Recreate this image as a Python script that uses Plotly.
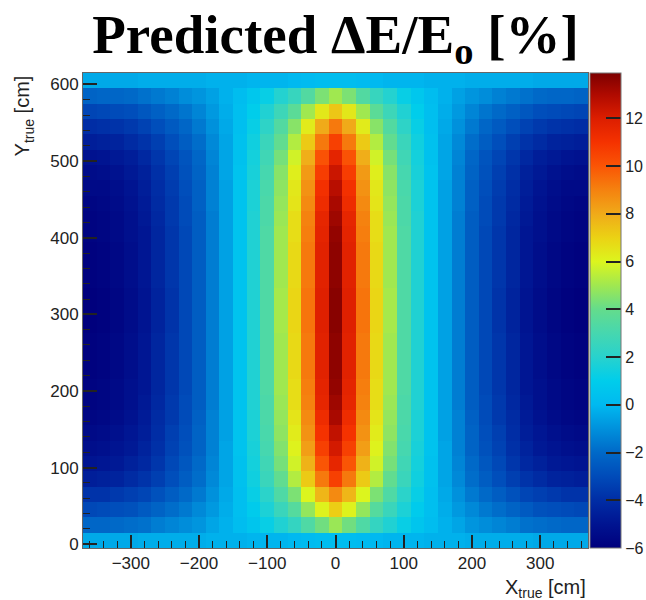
import plotly.graph_objects as go

# bin centres (cm)
x_centers = [-360, -340, -320, -300, -280, -260, -240, -220, -200, -180, -160, -140, -120, -100, -80, -60, -40, -20,
             0, 20, 40, 60, 80, 100, 120, 140, 160, 180, 200, 220, 240, 260, 280, 300, 320, 340, 360]
y_centers = [5, 25, 45, 65, 85, 105, 125, 145, 165, 185, 205, 225, 245, 265, 285, 305, 325, 345, 365, 385,
             405, 425, 445, 465, 485, 505, 525, 545, 565, 585, 605]

# predicted dE/E0 [%], one row per y bin (bottom to top)
dE = [
    [-0.4,-0.4,-0.4,-0.4,-0.3,-0.3,-0.3,-0.3,-0.3,-0.2,-0.2,-0.2,-0.1,-0.1,-0.1,0.0,0.1,0.2,0.2,0.2,0.1,0.0,-0.1,-0.1,-0.1,-0.2,-0.2,-0.2,-0.3,-0.3,-0.3,-0.3,-0.3,-0.4,-0.4,-0.4,-0.4],
    [-2.1,-2.1,-2.0,-1.9,-1.8,-1.5,-1.3,-1.1,-0.9,-0.5,-0.2,0.2,0.6,1.2,1.8,2.4,3.3,4.2,4.9,4.2,3.3,2.4,1.8,1.2,0.6,0.2,-0.2,-0.5,-0.9,-1.1,-1.3,-1.5,-1.8,-1.9,-2.0,-2.1,-2.1],
    [-3.1,-3.0,-2.9,-2.8,-2.5,-2.2,-1.9,-1.6,-1.2,-0.8,-0.3,0.3,0.9,1.7,2.6,3.5,4.8,6.1,7.1,6.1,4.8,3.5,2.6,1.7,0.9,0.3,-0.3,-0.8,-1.2,-1.6,-1.9,-2.2,-2.5,-2.8,-2.9,-3.0,-3.1],
    [-3.8,-3.8,-3.6,-3.4,-3.2,-2.8,-2.4,-2.0,-1.6,-1.0,-0.4,0.3,1.2,2.1,3.3,4.4,6.0,7.7,8.8,7.7,6.0,4.4,3.3,2.1,1.2,0.3,-0.4,-1.0,-1.6,-2.0,-2.4,-2.8,-3.2,-3.4,-3.6,-3.8,-3.8],
    [-4.6,-4.5,-4.4,-4.1,-3.8,-3.4,-2.9,-2.4,-1.9,-1.2,-0.5,0.4,1.4,2.6,3.9,5.3,7.2,9.2,10.6,9.2,7.2,5.3,3.9,2.6,1.4,0.4,-0.5,-1.2,-1.9,-2.4,-2.9,-3.4,-3.8,-4.1,-4.4,-4.5,-4.6],
    [-5.0,-4.9,-4.8,-4.5,-4.2,-3.7,-3.1,-2.6,-2.0,-1.3,-0.5,0.4,1.5,2.8,4.3,5.8,7.8,10.0,11.6,10.0,7.8,5.8,4.3,2.8,1.5,0.4,-0.5,-1.3,-2.0,-2.6,-3.1,-3.7,-4.2,-4.5,-4.8,-4.9,-5.0],
    [-5.3,-5.2,-5.0,-4.8,-4.4,-3.9,-3.3,-2.8,-2.2,-1.4,-0.5,0.5,1.6,3.0,4.5,6.1,8.3,10.6,12.2,10.6,8.3,6.1,4.5,3.0,1.6,0.5,-0.5,-1.4,-2.2,-2.8,-3.3,-3.9,-4.4,-4.8,-5.0,-5.2,-5.3],
    [-5.5,-5.4,-5.2,-4.9,-4.6,-4.0,-3.4,-2.9,-2.2,-1.4,-0.6,0.5,1.7,3.1,4.7,6.3,8.6,11.0,12.6,11.0,8.6,6.3,4.7,3.1,1.7,0.5,-0.6,-1.4,-2.2,-2.9,-3.4,-4.0,-4.6,-4.9,-5.2,-5.4,-5.5],
    [-5.7,-5.6,-5.4,-5.1,-4.7,-4.1,-3.6,-3.0,-2.3,-1.4,-0.6,0.5,1.7,3.2,4.8,6.5,8.8,11.3,13.1,11.3,8.8,6.5,4.8,3.2,1.7,0.5,-0.6,-1.4,-2.3,-3.0,-3.6,-4.1,-4.7,-5.1,-5.4,-5.6,-5.7],
    [-5.8,-5.7,-5.5,-5.2,-4.8,-4.2,-3.6,-3.0,-2.4,-1.5,-0.6,0.5,1.8,3.2,4.9,6.7,9.0,11.6,13.3,11.6,9.0,6.7,4.9,3.2,1.8,0.5,-0.6,-1.5,-2.4,-3.0,-3.6,-4.2,-4.8,-5.2,-5.5,-5.7,-5.8],
    [-5.8,-5.7,-5.5,-5.2,-4.9,-4.3,-3.7,-3.1,-2.4,-1.5,-0.6,0.5,1.8,3.3,5.0,6.7,9.1,11.7,13.5,11.7,9.1,6.7,5.0,3.3,1.8,0.5,-0.6,-1.5,-2.4,-3.1,-3.7,-4.3,-4.9,-5.2,-5.5,-5.7,-5.8],
    [-5.9,-5.8,-5.6,-5.3,-4.9,-4.3,-3.7,-3.1,-2.4,-1.5,-0.6,0.5,1.8,3.3,5.0,6.8,9.2,11.8,13.6,11.8,9.2,6.8,5.0,3.3,1.8,0.5,-0.6,-1.5,-2.4,-3.1,-3.7,-4.3,-4.9,-5.3,-5.6,-5.8,-5.9],
    [-5.9,-5.8,-5.6,-5.3,-4.9,-4.3,-3.7,-3.1,-2.4,-1.5,-0.6,0.5,1.8,3.3,5.0,6.8,9.2,11.8,13.6,11.8,9.2,6.8,5.0,3.3,1.8,0.5,-0.6,-1.5,-2.4,-3.1,-3.7,-4.3,-4.9,-5.3,-5.6,-5.8,-5.9],
    [-5.9,-5.8,-5.6,-5.3,-4.9,-4.3,-3.7,-3.1,-2.4,-1.5,-0.6,0.5,1.8,3.3,5.0,6.8,9.2,11.8,13.6,11.8,9.2,6.8,5.0,3.3,1.8,0.5,-0.6,-1.5,-2.4,-3.1,-3.7,-4.3,-4.9,-5.3,-5.6,-5.8,-5.9],
    [-6.0,-5.9,-5.7,-5.4,-5.0,-4.4,-3.8,-3.1,-2.4,-1.5,-0.6,0.5,1.8,3.3,5.1,6.9,9.3,11.9,13.7,11.9,9.3,6.9,5.1,3.3,1.8,0.5,-0.6,-1.5,-2.4,-3.1,-3.8,-4.4,-5.0,-5.4,-5.7,-5.9,-6.0],
    [-6.0,-5.9,-5.7,-5.4,-5.0,-4.4,-3.8,-3.1,-2.4,-1.5,-0.6,0.5,1.8,3.3,5.1,6.9,9.3,11.9,13.7,11.9,9.3,6.9,5.1,3.3,1.8,0.5,-0.6,-1.5,-2.4,-3.1,-3.8,-4.4,-5.0,-5.4,-5.7,-5.9,-6.0],
    [-6.0,-5.9,-5.7,-5.4,-5.0,-4.4,-3.8,-3.1,-2.4,-1.5,-0.6,0.5,1.8,3.3,5.1,6.9,9.3,11.9,13.7,11.9,9.3,6.9,5.1,3.3,1.8,0.5,-0.6,-1.5,-2.4,-3.1,-3.8,-4.4,-5.0,-5.4,-5.7,-5.9,-6.0],
    [-5.9,-5.8,-5.6,-5.3,-4.9,-4.3,-3.7,-3.1,-2.4,-1.5,-0.6,0.5,1.8,3.3,5.0,6.8,9.2,11.8,13.6,11.8,9.2,6.8,5.0,3.3,1.8,0.5,-0.6,-1.5,-2.4,-3.1,-3.7,-4.3,-4.9,-5.3,-5.6,-5.8,-5.9],
    [-5.9,-5.8,-5.6,-5.3,-4.9,-4.3,-3.7,-3.1,-2.4,-1.5,-0.6,0.5,1.8,3.3,5.0,6.8,9.2,11.8,13.6,11.8,9.2,6.8,5.0,3.3,1.8,0.5,-0.6,-1.5,-2.4,-3.1,-3.7,-4.3,-4.9,-5.3,-5.6,-5.8,-5.9],
    [-5.9,-5.8,-5.6,-5.3,-4.9,-4.3,-3.7,-3.1,-2.4,-1.5,-0.6,0.5,1.8,3.3,5.0,6.8,9.2,11.8,13.6,11.8,9.2,6.8,5.0,3.3,1.8,0.5,-0.6,-1.5,-2.4,-3.1,-3.7,-4.3,-4.9,-5.3,-5.6,-5.8,-5.9],
    [-5.8,-5.7,-5.5,-5.2,-4.9,-4.3,-3.7,-3.1,-2.4,-1.5,-0.6,0.5,1.8,3.3,5.0,6.7,9.1,11.7,13.5,11.7,9.1,6.7,5.0,3.3,1.8,0.5,-0.6,-1.5,-2.4,-3.1,-3.7,-4.3,-4.9,-5.2,-5.5,-5.7,-5.8],
    [-5.8,-5.7,-5.5,-5.2,-4.8,-4.2,-3.6,-3.0,-2.4,-1.5,-0.6,0.5,1.8,3.2,4.9,6.7,9.0,11.6,13.3,11.6,9.0,6.7,4.9,3.2,1.8,0.5,-0.6,-1.5,-2.4,-3.0,-3.6,-4.2,-4.8,-5.2,-5.5,-5.7,-5.8],
    [-5.7,-5.6,-5.4,-5.1,-4.7,-4.1,-3.6,-3.0,-2.3,-1.4,-0.6,0.5,1.7,3.2,4.8,6.5,8.8,11.3,13.1,11.3,8.8,6.5,4.8,3.2,1.7,0.5,-0.6,-1.4,-2.3,-3.0,-3.6,-4.1,-4.7,-5.1,-5.4,-5.6,-5.7],
    [-5.5,-5.5,-5.3,-5.0,-4.6,-4.0,-3.5,-2.9,-2.3,-1.4,-0.6,0.5,1.7,3.1,4.7,6.4,8.6,11.1,12.8,11.1,8.6,6.4,4.7,3.1,1.7,0.5,-0.6,-1.4,-2.3,-2.9,-3.5,-4.0,-4.6,-5.0,-5.3,-5.5,-5.5],
    [-5.4,-5.3,-5.1,-4.8,-4.5,-3.9,-3.4,-2.8,-2.2,-1.4,-0.5,0.5,1.6,3.0,4.6,6.2,8.4,10.7,12.4,10.7,8.4,6.2,4.6,3.0,1.6,0.5,-0.5,-1.4,-2.2,-2.8,-3.4,-3.9,-4.5,-4.8,-5.1,-5.3,-5.4],
    [-5.1,-5.0,-4.8,-4.6,-4.2,-3.7,-3.2,-2.7,-2.1,-1.3,-0.5,0.4,1.5,2.8,4.3,5.8,7.9,10.1,11.7,10.1,7.9,5.8,4.3,2.8,1.5,0.4,-0.5,-1.3,-2.1,-2.7,-3.2,-3.7,-4.2,-4.6,-4.8,-5.0,-5.1],
    [-4.6,-4.5,-4.4,-4.1,-3.8,-3.4,-2.9,-2.4,-1.9,-1.2,-0.5,0.4,1.4,2.6,3.9,5.3,7.2,9.2,10.6,9.2,7.2,5.3,3.9,2.6,1.4,0.4,-0.5,-1.2,-1.9,-2.4,-2.9,-3.4,-3.8,-4.1,-4.4,-4.5,-4.6],
    [-4.0,-3.9,-3.8,-3.6,-3.3,-2.9,-2.5,-2.1,-1.6,-1.0,-0.4,0.3,1.2,2.2,3.4,4.6,6.3,8.0,9.2,8.0,6.3,4.6,3.4,2.2,1.2,0.3,-0.4,-1.0,-1.6,-2.1,-2.5,-2.9,-3.3,-3.6,-3.8,-3.9,-4.0],
    [-3.2,-3.1,-3.0,-2.9,-2.6,-2.3,-2.0,-1.7,-1.3,-0.8,-0.3,0.3,1.0,1.8,2.7,3.7,5.0,6.4,7.3,6.4,5.0,3.7,2.7,1.8,1.0,0.3,-0.3,-0.8,-1.3,-1.7,-2.0,-2.3,-2.6,-2.9,-3.0,-3.1,-3.2],
    [-2.2,-2.1,-2.1,-2.0,-1.8,-1.6,-1.4,-1.1,-0.9,-0.6,-0.2,0.2,0.7,1.2,1.9,2.5,3.4,4.4,5.0,4.4,3.4,2.5,1.9,1.2,0.7,0.2,-0.2,-0.6,-0.9,-1.1,-1.4,-1.6,-1.8,-2.0,-2.1,-2.1,-2.2],
    [-0.4,-0.4,-0.4,-0.4,-0.3,-0.3,-0.3,-0.3,-0.3,-0.2,-0.2,-0.2,-0.1,-0.1,-0.1,0.0,0.1,0.2,0.2,0.2,0.1,0.0,-0.1,-0.1,-0.1,-0.2,-0.2,-0.2,-0.3,-0.3,-0.3,-0.3,-0.3,-0.4,-0.4,-0.4,-0.4],
]

x_ticks = [-300, -200, -100, 0, 100, 200, 300]
y_ticks = [0, 100, 200, 300, 400, 500, 600]
z_ticks = [-6, -4, -2, 0, 2, 4, 6, 8, 10, 12]

ZMIN, ZMAX = -6.0, 13.9
stops = [
    (-6.0, "rgb(0,0,125)"), (-5.0, "rgb(0,20,145)"), (-4.0, "rgb(0,45,165)"), (-3.0, "rgb(0,75,185)"),
    (-2.0, "rgb(0,105,200)"), (-1.0, "rgb(0,145,220)"), (0.0, "rgb(0,185,240)"), (1.0, "rgb(0,205,235)"),
    (2.0, "rgb(40,210,205)"), (3.0, "rgb(70,215,175)"), (4.0, "rgb(100,220,140)"), (5.0, "rgb(160,232,80)"),
    (6.0, "rgb(220,245,30)"), (7.0, "rgb(235,210,20)"), (8.0, "rgb(240,170,25)"), (9.0, "rgb(245,130,15)"),
    (10.0, "rgb(250,85,5)"), (11.0, "rgb(245,50,0)"), (12.0, "rgb(220,30,0)"), (13.0, "rgb(175,10,0)"),
    (13.9, "rgb(125,0,0)"),
]
colorscale = [[(v - ZMIN) / (ZMAX - ZMIN), c] for v, c in stops]

tick_font = dict(family="Liberation Sans, Arial, sans-serif", size=17, color="#222")

fig = go.Figure(go.Heatmap(
    x=x_centers, y=y_centers, z=dE,
    zmin=ZMIN, zmax=ZMAX, colorscale=colorscale,
    colorbar=dict(
        x=1.004, xanchor="left", xpad=0, ypad=0, y=0.5, yanchor="middle",
        len=1, lenmode="fraction", thickness=31, thicknessmode="pixels",
        tickvals=z_ticks, ticks="inside", ticklen=15, tickwidth=1.5, tickcolor="#222",
        tickfont=dict(family="Liberation Sans, Arial, sans-serif", size=16, color="#222"),
        outlinewidth=1, outlinecolor="#777",
    ),
    hoverinfo="skip",
))

axis_common = dict(
    showgrid=False, zeroline=False, showline=True, linecolor="#666", linewidth=1, mirror=True,
    ticks="inside", tickwidth=1.5, tickcolor="#222", tickfont=tick_font,
)

fig.update_layout(
    width=646, height=600,
    margin=dict(l=83, r=58, t=73, b=52, autoexpand=False),
    paper_bgcolor="white", plot_bgcolor="white",
    title=dict(
        text="<b>Predicted ΔE/E<sub>o</sub> [%]</b>",
        font=dict(family="Liberation Serif, Times New Roman, serif", size=55, color="black"),
        x=0.5, xref="paper", xanchor="center",
        y=1 - 14 / 600, yref="container", yanchor="top",
    ),
    xaxis=dict(range=[-370, 370], tickvals=x_ticks, ticklen=13,
               minor=dict(ticks="inside", dtick=20, tick0=0, ticklen=7, tickwidth=1.2, tickcolor="#222"),
               **axis_common),
    yaxis=dict(range=[-5, 615], tickvals=y_ticks, ticklen=14,
               minor=dict(ticks="inside", dtick=20, tick0=0, ticklen=7, tickwidth=1.2, tickcolor="#222"),
               **axis_common),
    annotations=[
        dict(text="Y<sub>true</sub> [cm]", textangle=-90, showarrow=False,
             xref="paper", yref="paper", x=-0.117, y=1.0, xanchor="center", yanchor="top",
             font=dict(family="Liberation Sans, Arial, sans-serif", size=20, color="#222")),
        dict(text="X<sub>true</sub> [cm]", showarrow=False,
             xref="paper", yref="paper", x=1.0, y=-0.055, xanchor="right", yanchor="top",
             font=dict(family="Liberation Sans, Arial, sans-serif", size=20, color="#222")),
    ],
)

fig.write_html("out.html")
